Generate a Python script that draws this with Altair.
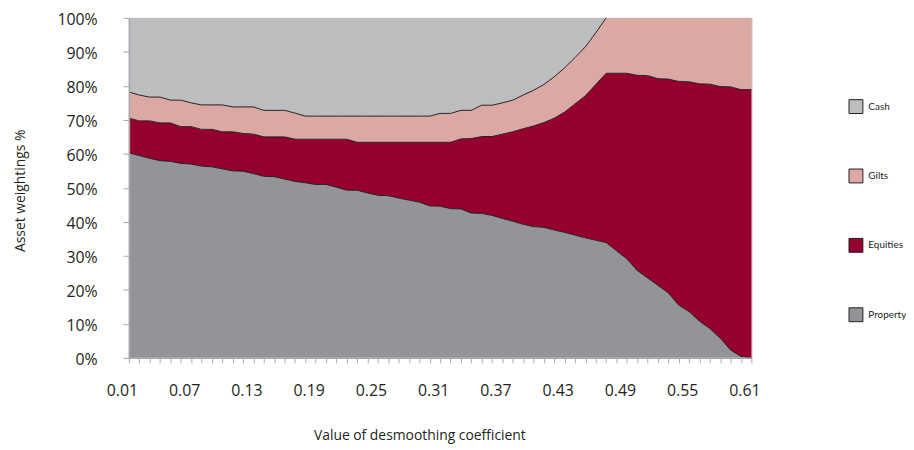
import altair as alt
import pandas as pd

# Desmoothing coefficient (category axis)
coef = [0.01, 0.02, 0.03, 0.04, 0.05, 0.06, 0.07, 0.08, 0.09, 0.10,
        0.11, 0.12, 0.13, 0.14, 0.15, 0.16, 0.17, 0.18, 0.19, 0.20,
        0.21, 0.22, 0.23, 0.24, 0.25, 0.26, 0.27, 0.28, 0.29, 0.30,
        0.31, 0.32, 0.33, 0.34, 0.35, 0.36, 0.37, 0.38, 0.39, 0.40,
        0.41, 0.42, 0.43, 0.44, 0.45, 0.46, 0.47, 0.48, 0.49, 0.50,
        0.51, 0.52, 0.53, 0.54, 0.55, 0.56, 0.57, 0.58, 0.59, 0.60, 0.61]

# Asset weightings (%)
property_w = [60.3, 59.5, 58.7, 58.0, 57.8, 57.2, 57.0, 56.4, 56.2, 55.6,
              55.0, 54.9, 54.2, 53.4, 53.3, 52.6, 51.9, 51.5, 51.0, 51.0,
              50.2, 49.3, 49.3, 48.5, 47.8, 47.7, 47.0, 46.4, 45.8, 44.7,
              44.6, 43.9, 43.8, 42.6, 42.5, 41.9, 41.0, 40.2, 39.3, 38.6,
              38.4, 37.6, 36.9, 36.1, 35.3, 34.6, 33.9, 31.5, 29.1, 25.7,
              23.5, 21.3, 19.1, 15.5, 13.6, 10.8, 8.6, 5.8, 2.3, 0.4, 0.0]

equities_w = [10.2, 10.2, 11.0, 11.1, 11.3, 10.8, 11.0, 10.8, 11.0, 10.9,
              11.5, 11.1, 11.6, 11.6, 11.7, 12.4, 12.4, 12.8, 13.3, 13.3,
              14.1, 15.0, 14.1, 14.9, 15.6, 15.7, 16.4, 17.0, 17.6, 18.7,
              18.8, 19.5, 20.6, 21.9, 22.6, 23.2, 24.8, 26.3, 28.1, 29.6,
              30.8, 32.9, 35.4, 38.6, 41.8, 45.8, 49.8, 52.2, 54.6, 57.4,
              59.5, 60.8, 62.9, 65.8, 67.6, 69.8, 71.9, 74.0, 77.4, 78.5, 78.9]

gilts_w = [7.7, 7.6, 7.0, 7.6, 6.7, 7.8, 7.0, 7.2, 7.2, 7.9,
           7.3, 7.8, 8.0, 7.8, 7.8, 7.8, 7.7, 6.8, 6.8, 6.8,
           6.8, 6.8, 7.7, 7.7, 7.7, 7.7, 7.7, 7.7, 7.7, 7.7,
           8.5, 8.5, 8.4, 8.3, 9.2, 9.2, 9.2, 9.3, 9.9, 10.5,
           11.2, 12.2, 13.0, 13.6, 14.4, 15.2, 16.3, 16.3, 16.3, 16.9,
           17.0, 17.9, 18.0, 18.7, 18.8, 19.4, 19.5, 20.2, 20.3, 21.1, 21.1]

cash_w = [21.8, 22.7, 23.3, 23.3, 24.2, 24.2, 25.0, 25.6, 25.6, 25.6,
          26.2, 26.2, 26.2, 27.2, 27.2, 27.2, 28.0, 28.9, 28.9, 28.9,
          28.9, 28.9, 28.9, 28.9, 28.9, 28.9, 28.9, 28.9, 28.9, 28.9,
          28.1, 28.1, 27.2, 27.2, 25.7, 25.7, 25.0, 24.2, 22.7, 21.3,
          19.6, 17.3, 14.7, 11.7, 8.5, 4.4, 0.0, 0.0, 0.0, 0.0,
          0.0, 0.0, 0.0, 0.0, 0.0, 0.0, 0.0, 0.0, 0.0, 0.0, 0.0]

assets = ["Property", "Equities", "Gilts", "Cash"]
series = [property_w, equities_w, gilts_w, cash_w]
legend_order = ["Cash", "Gilts", "Equities", "Property"]
legend_colors = ["#bcbdbf", "#dba8a4", "#96002f", "#929497"]
y_ticks = [0, 10, 20, 30, 40, 50, 60, 70, 80, 90, 100]

rows = []
for k, (name, vals) in enumerate(zip(assets, series)):
    for c, v in zip(coef, vals):
        rows.append({"coef": c, "asset": name, "weight": v, "ord": k})
df = pd.DataFrame(rows)

FONT = "Open Sans"
TXT = "#231f20"
AX = "#a6a8ab"

base = alt.Chart(df).transform_stack(
    stack="weight",
    groupby=["coef"],
    as_=["y0", "y1"],
    sort=[alt.SortField("ord", order="ascending")],
)

x_axis = alt.Axis(
    values=coef,
    labelExpr="(round(datum.value*100)-1) % 6 == 0 ? format(datum.value, '.2f') : ''",
    labelOverlap=False,
    labelFlush=False,
    tickSize=5,
    labelPadding=20,
    labelOffset=-7,
    title="Value of desmoothing coefficient",
    titleX=293,
    titleY=78,
    titleAlign="center",
    titleBaseline="middle",
    zindex=1,
)
x_scale = alt.Scale(domain=[0.01, 0.61], nice=False, zero=False)

y_axis = alt.Axis(
    values=y_ticks,
    labelExpr="datum.value + '%'",
    labelOverlap=False,
    tickSize=6,
    labelPadding=26,
    labelOffset=2,
    title="Asset weightings %",
    titleX=-109,
    titleY=174,
    titleAlign="center",
    titleBaseline="middle",
    zindex=1,
)
y_scale = alt.Scale(domain=[0, 100], nice=False)

area = base.mark_area(interpolate="linear").encode(
    x=alt.X("coef:Q", scale=x_scale, axis=x_axis),
    y=alt.Y("y0:Q", scale=y_scale, axis=y_axis),
    y2="y1:Q",
    color=alt.Color(
        "asset:N",
        scale=alt.Scale(domain=legend_order, range=legend_colors),
        legend=alt.Legend(
            title=None,
            orient="none",
            legendX=726,
            legendY=82,
            padding=0,
            symbolType="square",
            symbolSize=196,
            symbolStrokeColor=TXT,
            symbolStrokeWidth=1,
            symbolOpacity=1,
            labelFont="Lato",
            labelFontSize=10,
            labelColor=TXT,
            labelOffset=5,
            rowPadding=51,
        ),
    ),
)

lines = base.transform_filter(
    "datum.asset != 'Cash' && (datum.y1 < 99.95 || datum.coef < 0.475)"
).mark_line(color=TXT, strokeWidth=1).encode(
    x=alt.X("coef:Q", scale=x_scale, axis=x_axis),
    y=alt.Y("y1:Q", scale=y_scale, axis=y_axis),
    detail="asset:N",
)

chart = alt.layer(area, lines).properties(
    width=628,
    height=343,
    autosize=alt.AutoSizeParams(type="none"),
    padding={"left": 122, "top": 8, "right": 156, "bottom": 90},
).configure_view(
    stroke=AX, strokeWidth=1
).configure_axis(
    grid=False,
    labelOverlap=False,
    labelFont=FONT,
    titleFont=FONT,
    labelFontSize=16,
    titleFontSize=14,
    titleFontWeight="normal",
    labelColor=TXT,
    titleColor=TXT,
    domainColor=AX,
    tickColor=AX,
    domainWidth=1.5,
    tickWidth=1,
)

chart.save("out.html", embed_options={"renderer": "svg", "actions": False})
